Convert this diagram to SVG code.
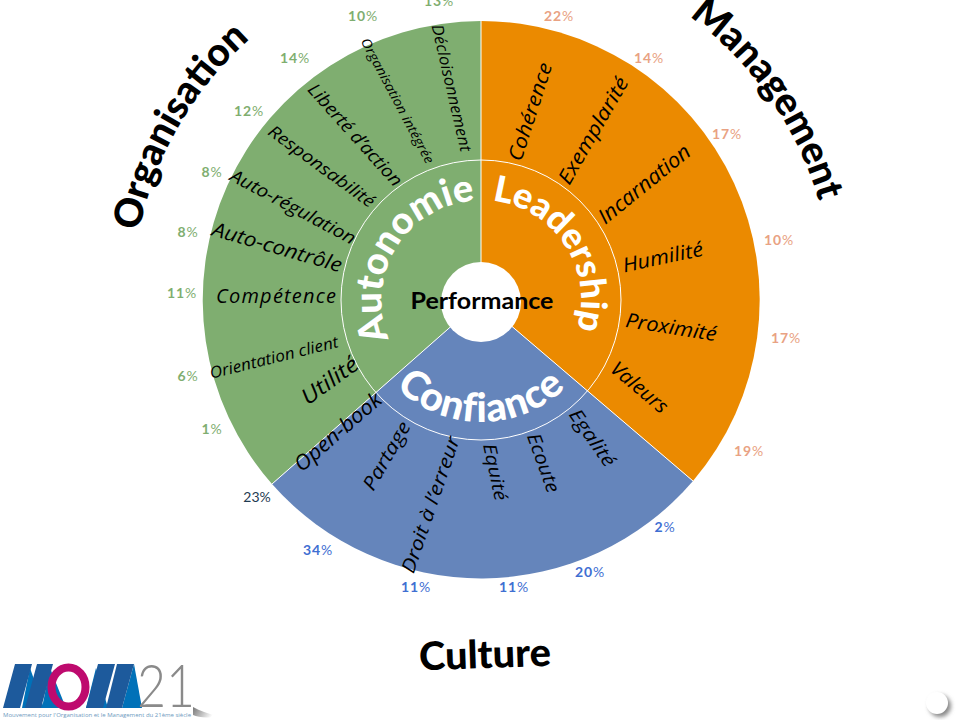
<svg xmlns="http://www.w3.org/2000/svg" width="960" height="720" viewBox="0 0 960 720">
<style>
.l{font-family:"Open Sans","Liberation Sans",sans-serif;font-style:italic;fill:#000;text-anchor:middle}
.p{font-family:Lato,"Liberation Sans",sans-serif;font-size:14px;font-weight:700;text-anchor:middle;letter-spacing:.8px}
.p tspan{font-weight:400}
.g{fill:#7FAE70}.b{fill:#3F6FD2}.o{fill:#E9A283}
.c{font-family:Lato,"Liberation Sans",sans-serif;font-weight:900;fill:#fff;text-anchor:middle;font-variant-ligatures:none}
.t{font-family:Lato,"Liberation Sans",sans-serif;font-weight:900;fill:#000;text-anchor:middle;font-size:39px}
.d{stroke:#fff;stroke-width:1;fill:none}
.dk{fill:#1D5A9C}.lt{fill:#0071B8}
</style>
<defs>
<path id="aAuto" d="M431 386.6A100 100 0 0 1 531 213.4"/>
<path id="aLead" d="M423.6 218.1A100 100 0 0 1 538.4 381.9"/>
<path id="aConf" d="M359 300A122 122 0 0 0 603 300"/>
<path id="aOrg" d="M299.7 601.7A352 352 0 0 1 662.3 -1.7"/>
<path id="aMan" d="M279 11.7A352 352 0 0 1 683 588.3"/>
<linearGradient id="sh" x1="0" y1="0" x2="1" y2="0.3"><stop offset="0" stop-color="#777"/><stop offset="1" stop-color="#fff"/></linearGradient>
<filter id="bl" x="-50%" y="-50%" width="200%" height="200%"><feGaussianBlur stdDeviation="2"/></filter>
</defs>

<g id="sectors">
<path d="M481 300L481 21A279 279 0 0 0 272 484Z" fill="#7FAE70"/>
<path d="M481 300L272 484A279 279 0 0 0 693 481Z" fill="#6585BB"/>
<path d="M481 300L693 481A279 279 0 0 0 481 21Z" fill="#EB8A00"/>
</g>

<g id="connectors">
<circle class="d" cx="481" cy="300" r="140"/>
<path class="d" d="M481 300V21M481 300L272 484M481 300L693 481"/>
</g>

<g id="organisation">
<text class="l" font-size="16" textLength="130" lengthAdjust="spacingAndGlyphs" transform="translate(451 88) rotate(77)" dy="5">Décloisonnement</text>
<text class="l" font-size="13" textLength="140" lengthAdjust="spacingAndGlyphs" transform="translate(397 101) rotate(62)" dy="4">Organisation intégrée</text>
<text class="l" font-size="18" textLength="131" lengthAdjust="spacingAndGlyphs" transform="translate(355 135) rotate(48)" dy="6">Liberté d’action</text>
<text class="l" font-size="17" textLength="127" lengthAdjust="spacingAndGlyphs" transform="translate(321 167) rotate(36)" dy="5">Responsabilité</text>
<text class="l" font-size="18" textLength="139" lengthAdjust="spacingAndGlyphs" transform="translate(293 207) rotate(28)" dy="6">Auto-régulation</text>
<text class="l" font-size="20" textLength="134" lengthAdjust="spacingAndGlyphs" transform="translate(277 248) rotate(16)" dy="6">Auto-contrôle</text>
<text class="l" font-size="20" textLength="120" transform="translate(276 297)" dy="6">Compétence</text>
<text class="l" font-size="16" textLength="132" lengthAdjust="spacingAndGlyphs" transform="translate(274 358) rotate(-14)" dy="5">Orientation client</text>
<text class="l" font-size="22" textLength="65" lengthAdjust="spacingAndGlyphs" transform="translate(330 381) rotate(-36)" dy="7">Utilité</text>
<text class="l" font-size="21" textLength="108" lengthAdjust="spacingAndGlyphs" transform="translate(338 432) rotate(-41)" dy="7">Open-book</text>
<text class="p g" x="439" y="6">13<tspan>%</tspan></text>
<text class="p g" x="363" y="21">10<tspan>%</tspan></text>
<text class="p g" x="295" y="63">14<tspan>%</tspan></text>
<text class="p g" x="249" y="116">12<tspan>%</tspan></text>
<text class="p g" x="212" y="177">8<tspan>%</tspan></text>
<text class="p g" x="188" y="237">8<tspan>%</tspan></text>
<text class="p g" x="182" y="298">11<tspan>%</tspan></text>
<text class="p g" x="188" y="381">6<tspan>%</tspan></text>
<text class="p g" x="212" y="434">1<tspan>%</tspan></text>
<text class="t"><textPath href="#aOrg" startOffset="49.400%">Organisation</textPath></text>
</g>

<g id="culture">
<text class="l" font-size="19" textLength="76" lengthAdjust="spacingAndGlyphs" transform="translate(387 456) rotate(-60)" dy="6">Partage</text>
<text class="l" font-size="19" textLength="143" lengthAdjust="spacingAndGlyphs" transform="translate(431 505) rotate(-71)" dy="6">Droit à l’erreur</text>
<text class="l" font-size="18" textLength="58" lengthAdjust="spacingAndGlyphs" transform="translate(495 472) rotate(78)" dy="6">Equité</text>
<text class="l" font-size="19" textLength="62" lengthAdjust="spacingAndGlyphs" transform="translate(543 463) rotate(70)" dy="6">Ecoute</text>
<text class="l" font-size="19" textLength="66" lengthAdjust="spacingAndGlyphs" transform="translate(592 438) rotate(55)" dy="6">Egalité</text>
<text x="257" y="502" font-family="Lato,sans-serif" font-size="14" fill="#1F3B52" text-anchor="middle">23%</text>
<text class="p b" x="318" y="555">34<tspan>%</tspan></text>
<text class="p b" x="416" y="592">11<tspan>%</tspan></text>
<text class="p b" x="514" y="592">11<tspan>%</tspan></text>
<text class="p b" x="590" y="577">20<tspan>%</tspan></text>
<text class="p b" x="665" y="532">2<tspan>%</tspan></text>
<text class="t" transform="rotate(-2 485 655)" x="485" y="668" textLength="132" lengthAdjust="spacingAndGlyphs">Culture</text>
</g>

<g id="management">
<text class="l" font-size="20" textLength="102" lengthAdjust="spacingAndGlyphs" transform="translate(531 112) rotate(-72)" dy="6">Cohérence</text>
<text class="l" font-size="20" textLength="120" lengthAdjust="spacingAndGlyphs" transform="translate(594 131) rotate(-60)" dy="6">Exemplarité</text>
<text class="l" font-size="21" textLength="112" lengthAdjust="spacingAndGlyphs" transform="translate(645 185) rotate(-39)" dy="6">Incarnation</text>
<text class="l" font-size="20" textLength="82" lengthAdjust="spacingAndGlyphs" transform="translate(663 258) rotate(-12)" dy="6">Humilité</text>
<text class="l" font-size="20" textLength="92" lengthAdjust="spacingAndGlyphs" transform="translate(671 328) rotate(9)" dy="6">Proximité</text>
<text class="l" font-size="20" textLength="68" lengthAdjust="spacingAndGlyphs" transform="translate(639 388) rotate(40)" dy="6">Valeurs</text>
<text class="p o" x="559" y="21">22<tspan>%</tspan></text>
<text class="p o" x="649" y="63">14<tspan>%</tspan></text>
<text class="p o" x="727" y="139">17<tspan>%</tspan></text>
<text class="p o" x="779" y="245">10<tspan>%</tspan></text>
<text class="p o" x="786" y="343">17<tspan>%</tspan></text>
<text class="p o" x="749" y="456">19<tspan>%</tspan></text>
<text class="t"><textPath href="#aMan" startOffset="50%">Management</textPath></text>
</g>

<g id="autonomie"><text class="c" font-size="38"><textPath href="#aAuto" startOffset="51%">Autonomie</textPath></text></g>
<g id="leadership"><text class="c" font-size="36"><textPath href="#aLead" startOffset="51%">Leadership</textPath></text></g>
<g id="confiance"><text class="c" font-size="40" letter-spacing="1"><textPath href="#aConf" startOffset="50%">Confiance</textPath></text></g>

<g id="performance">
<circle cx="481" cy="302" r="40" fill="#fff"/>
<text x="482" y="309" font-family="Lato,Liberation Sans,sans-serif" font-size="23" font-weight="700" text-anchor="middle" textLength="143" lengthAdjust="spacingAndGlyphs">Performance</text>
</g>

<g id="logo">
<polygon class="lt" points="30,668 44,708 22,708"/>
<polygon class="lt" points="50,668 66,708 42,708"/>
<polygon class="lt" points="96,668 108,708 86,708"/>
<polygon class="lt" points="134,664 142,708 122,708"/>
<polygon class="dk" points="15,664 32,664 20,708 3,708"/>
<polygon class="dk" points="37,664 53,664 41,708 25,708"/>
<polygon class="dk" points="98,664 115,664 103,708 86,708"/>
<polygon class="dk" points="117,664 134,664 122,708 106,708"/>
<ellipse cx="68.500" cy="687" rx="17" ry="19.500" fill="none" stroke="#BE0A6E" stroke-width="8"/>
<text x="137" y="707" font-family="Lato,sans-serif" font-weight="300" font-size="60" fill="#8A8A8A" textLength="58" lengthAdjust="spacingAndGlyphs">21</text>
<text x="3" y="717" font-family="Open Sans,sans-serif" font-size="5.500" fill="#6E9AC0" textLength="188" lengthAdjust="spacingAndGlyphs">Mouvement pour l'Organisation et le Management du 21ème siècle</text>
<path d="M193 707C200 711 208 713 216 716C208 719 198 717 193 715Z" fill="url(#sh)"/>
</g>

<g id="ball">
<circle cx="940" cy="706" r="11" fill="#888" filter="url(#bl)"/>
<circle cx="937" cy="703" r="11" fill="#fff"/>
</g>
</svg>
